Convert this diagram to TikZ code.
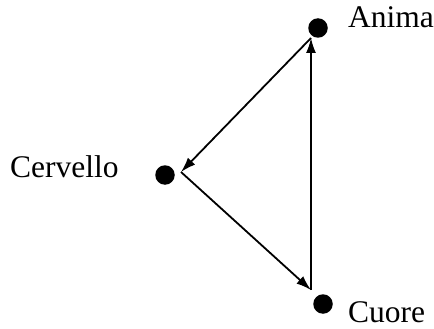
\documentclass[tikz,border=0pt]{standalone}
\usepackage{fontspec}
\setmainfont{Liberation Serif}
\usetikzlibrary{arrows.meta}
\begin{document}
\begin{tikzpicture}[x=1pt,y=-1pt,
  dot/.style={circle,fill=black,inner sep=0pt,minimum width=19.5pt},
  lbl/.style={anchor=base west,inner sep=0pt,font=\fontsize{31.5}{36}\selectfont},
  conn/.style={line width=1.8pt,-{Latex[length=15pt,width=10pt]}}]
\useasboundingbox (0,0) rectangle (434,329);
\node[dot] (anima) at (318,28) {};
\node[dot] (cervello) at (165,175) {};
\node[dot] (cuore) at (323,304) {};
\node[lbl] (tanima) at (348,28) {Anima};
\node[lbl] (tcervello) at (10,177) {Cervello};
\node[lbl] (tcuore) at (348,322) {Cuore};
\coordinate (atop) at (311,38);
\coordinate (cvx) at (181,172);
\coordinate (cbot) at (311,290);
\draw[conn] (atop) -- (cvx);
\draw[conn] (cvx) -- (cbot);
\draw[conn] (cbot) -- (atop);
\end{tikzpicture}
\end{document}
